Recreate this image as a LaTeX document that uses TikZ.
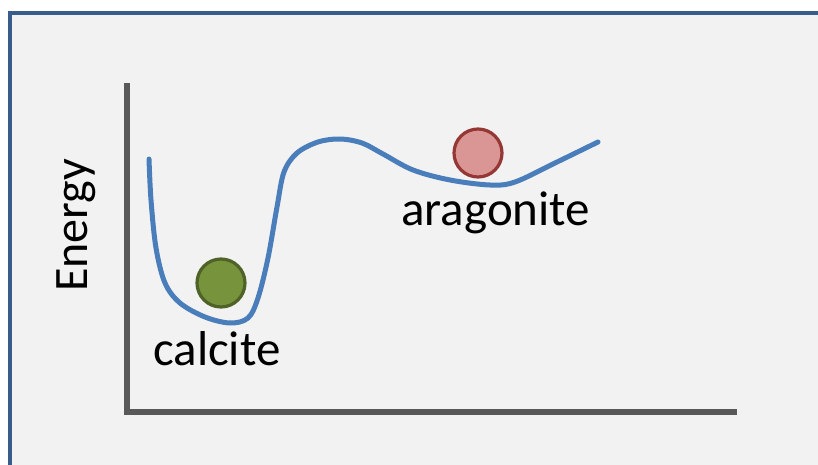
\documentclass[tikz,border=0pt]{standalone}
\usepackage{fontspec}
\setmainfont{Carlito}
\definecolor{panelfill}{HTML}{F2F2F2}
\definecolor{panelline}{HTML}{385D8A}
\definecolor{axisgray}{HTML}{595959}
\definecolor{curveblue}{HTML}{4A7EBB}
\definecolor{greenfill}{HTML}{77933C}
\definecolor{greenline}{HTML}{4F6228}
\definecolor{redfill}{HTML}{D99694}
\definecolor{redline}{HTML}{953735}
\begin{document}
\begin{tikzpicture}[x=1pt,y=-1pt,
  axisline/.style={draw=axisgray,line width=5.5pt,miter limit=10},
  energycurve/.style={draw=curveblue,line width=5pt,line cap=round,line join=round},
  ball/.style={circle,line width=3.2pt,minimum size=48pt,inner sep=0pt},
  label/.style={inner sep=0pt,anchor=base west,font=\fontsize{49}{58}\selectfont}]
  % page and panel
  \fill[white] (0,0) rectangle (818,465);
  \useasboundingbox (0,0) rectangle (818,465);
  \fill[panelfill] (10,13) rectangle (818,465);
  \draw[panelline,line width=4.5pt] (10,467) -- (10,13) -- (820,13);

  % axes
  \coordinate (ytop) at (127,83);
  \coordinate (origin) at (127,412);
  \coordinate (xend) at (737,412);
  \draw[axisline] (ytop) -- (origin) -- (xend);

  % energy landscape
  \draw[energycurve] plot[smooth,tension=0.55] coordinates {
    (149,159) (151,200) (156,248) (165,283) (180,303) (205,317) (230,323)
    (248,318) (258,298) (268,258) (277,207) (284,172) (297,153) (318,142)
    (340,139) (362,143) (383,154) (413,170) (450,180) (490,185) (515,182)
    (555,163) (598,142)};

  % minima
  \node[ball,fill=greenfill,draw=greenline] (calciteball) at (221,283) {};
  \node[ball,fill=redfill,draw=redline] (aragoniteball) at (478,153) {};

  % labels
  \node[label] (calcite) at (153,365) {calcite};
  \node[label] (aragonite) at (401,225) {aragonite};
  \node[label,rotate=90,font=\fontsize{48}{58}\selectfont] (energy) at (87,292) {Energy};
\end{tikzpicture}
\end{document}
